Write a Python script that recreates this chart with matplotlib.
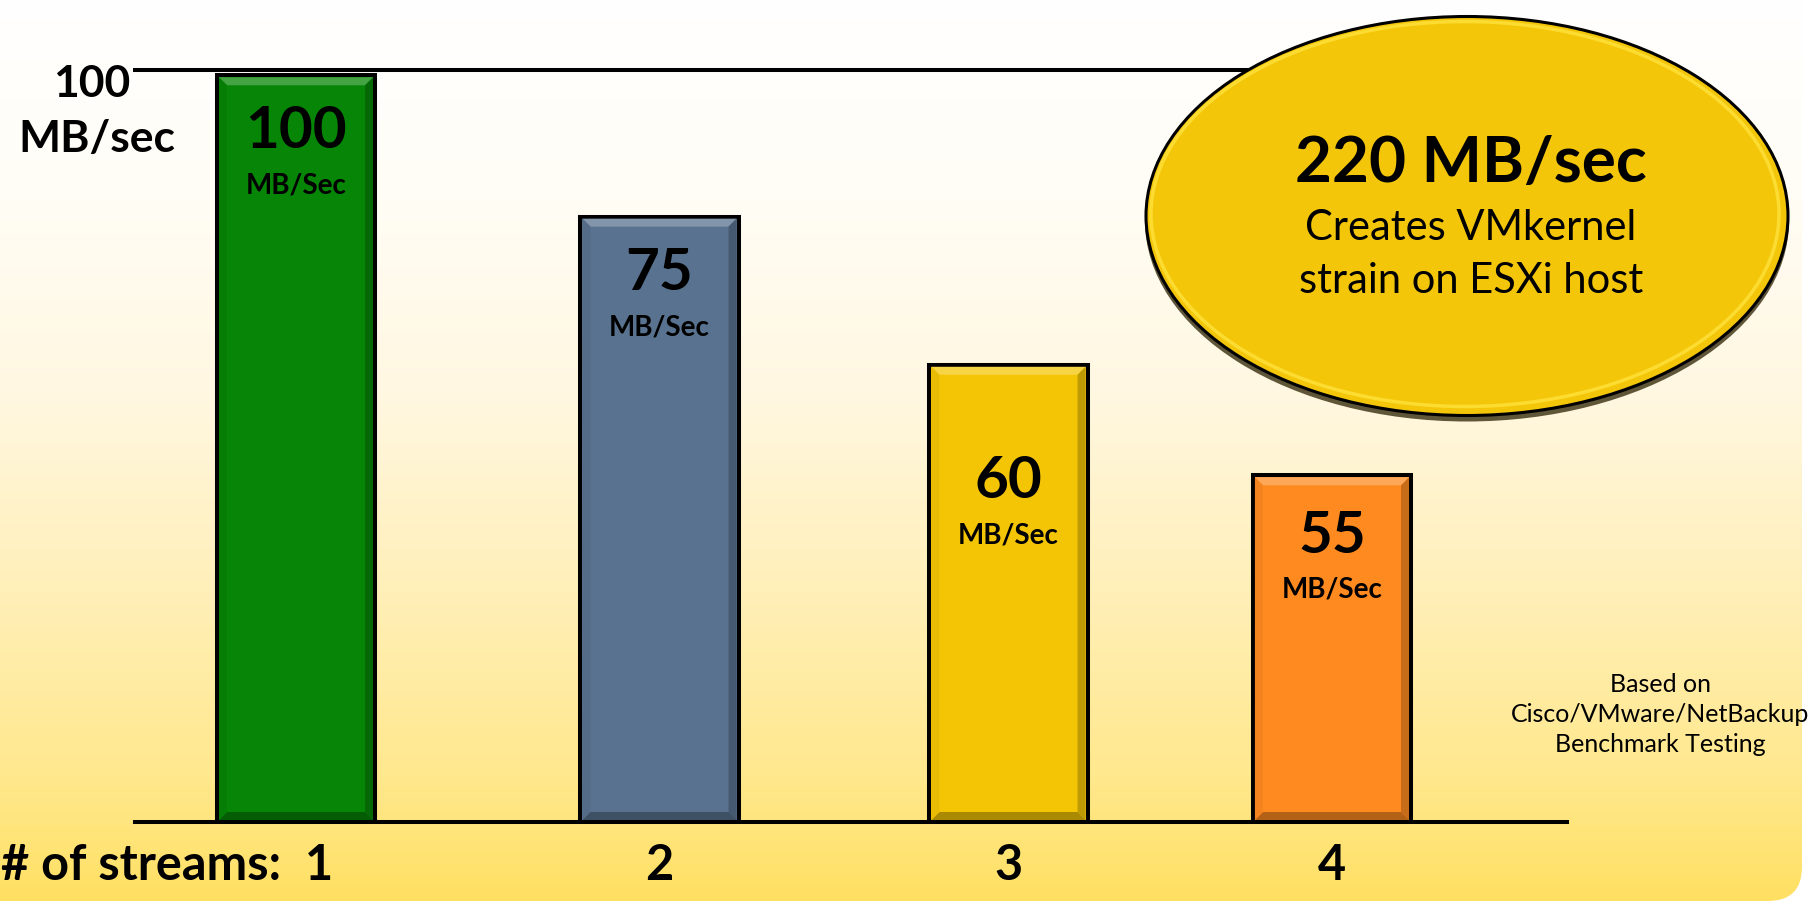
import numpy as np
import matplotlib.pyplot as plt
from matplotlib.patches import Ellipse, FancyBboxPatch, Polygon
from matplotlib.transforms import ScaledTranslation, IdentityTransform
from matplotlib.colors import to_rgb

plt.rcParams['font.family'] = ['Lato', 'DejaVu Sans']

# data (bar heights as drawn, labels as printed)
streams = [1, 2, 3, 4]
rate_labels = ['100', '75', '60', '55']
unit_label = 'MB/Sec'
bar_heights = [99.3, 80.5, 60.8, 46.1]
bar_colors = ['#068506', '#58728F', '#F4C505', '#FF8A20']
ytick_label = ['100', 'MB/sec']
callout_title = '220 MB/sec'
callout_lines = ['Creates VMkernel', 'strain on ESXi host']
note_lines = ['Based on', 'Cisco/VMware/NetBackup', 'Benchmark Testing']

# layout
W, H = 1814, 901
bar_pos = [1.0, 2.0, 2.96, 3.85]
bar_w = 0.435
num_y = [89.6, 70.7, 43.1, 35.8]   # baseline of the big number inside each bar
unit_gap = 6.0

fig = plt.figure(figsize=(W / 100, H / 100), dpi=100)

# background panel with vertical gradient and rounded bottom-right corner
bg = fig.add_axes([0, 0, 1, 1], zorder=0)
bg.set_xlim(0, W)
bg.set_ylim(H, 0)
bg.axis('off')
stops_y = [0, 200, 400, 600, 780, 901]
stops_c = np.array([[255, 255, 255], [255, 253, 245], [255, 247, 224],
                    [255, 239, 182], [255, 232, 140], [255, 224, 98]]) / 255
rows = np.arange(H)
grad = np.stack([np.interp(rows, stops_y, stops_c[:, k]) for k in range(3)], axis=1)
grad = np.repeat(grad[:, None, :], 4, axis=1)
im = bg.imshow(grad, extent=(0, W, H, 0), aspect='auto', interpolation='bilinear')
panel = FancyBboxPatch((-60, -60), 1802 + 60, H + 60,
                       boxstyle='round,pad=0,rounding_size=34',
                       facecolor='none', edgecolor='none')
bg.add_patch(panel)
im.set_clip_path(panel)

# main chart axes
ax = fig.add_axes([135 / W, (H - 822) / H, (1567 - 135) / W, (822 - 70) / H], zorder=2)
ax.patch.set_alpha(0)
ax.set_xlim(0.557, 4.4966)
ax.set_ylim(0, 100)
for side in ['left', 'right']:
    ax.spines[side].set_visible(False)
for side in ['top', 'bottom']:
    ax.spines[side].set_linewidth(2.9)
    ax.spines[side].set_color('black')
ax.set_xticks([])
ax.set_yticks([])

bars = ax.bar(bar_pos, bar_heights, width=bar_w, color=bar_colors,
              edgecolor='black', linewidth=2.9, zorder=3)


def mix(c, other, t):
    c = np.array(to_rgb(c))
    return tuple(c * (1 - t) + np.array(other) * t)


# bevel look on each bar
bev = 8
for rect, col in zip(bars, bar_colors):
    x0, y0 = ax.transData.transform((rect.get_x(), 0))
    x1, y1 = ax.transData.transform((rect.get_x() + rect.get_width(), rect.get_height()))
    x0 += 2; x1 -= 2; y0 += 2; y1 -= 2
    faces = [
        ([(x0, y1), (x1, y1), (x1 - bev, y1 - bev), (x0 + bev, y1 - bev)], mix(col, (1, 1, 1), 0.25)),
        ([(x1, y1), (x1, y0), (x1 - bev, y0 + bev), (x1 - bev, y1 - bev)], mix(col, (0, 0, 0), 0.22)),
        ([(x0, y0), (x1, y0), (x1 - bev, y0 + bev), (x0 + bev, y0 + bev)], mix(col, (0, 0, 0), 0.3)),
        ([(x0, y1), (x0, y0), (x0 + bev, y0 + bev), (x0 + bev, y1 - bev)], mix(col, (0, 0, 0), 0.05)),
    ]
    for pts, fc in faces:
        ax.add_artist(Polygon(pts, closed=True, facecolor=fc, edgecolor='none',
                              transform=IdentityTransform(), zorder=3.5))

# labels inside bars
for x, lab, y in zip(bar_pos, rate_labels, num_y):
    ax.text(x, y, lab, ha='center', va='baseline', fontsize=42, fontweight='bold',
            color='black', zorder=5)
    ax.text(x, y - unit_gap, unit_label, ha='center', va='baseline', fontsize=20,
            fontweight='bold', color='black', zorder=5)

# category labels under the baseline
for i, (x, n) in enumerate(zip(bar_pos, streams)):
    if i == 0:
        tr = ax.transData + ScaledTranslation(37 / 100, 0, fig.dpi_scale_trans)
        ax.text(x, -7.7, f'# of streams:  {n}', ha='right', va='baseline',
                fontsize=35, fontweight='bold', transform=tr, clip_on=False)
    else:
        ax.text(x, -7.7, f'{n}', ha='center', va='baseline', fontsize=35,
                fontweight='bold', clip_on=False)

# overlay: y label, callout ellipse, note
ov = fig.add_axes([0, 0, 1, 1], zorder=5)
ov.set_xlim(0, W)
ov.set_ylim(H, 0)
ov.axis('off')
ov.patch.set_alpha(0)

ov.text(92, 97, ytick_label[0], ha='center', va='baseline', fontsize=32, fontweight='bold')
ov.text(97, 152, ytick_label[1], ha='center', va='baseline', fontsize=32, fontweight='bold')

ecx, ecy, ew, eh = 1467, 216, 642, 399
ov.add_patch(Ellipse((ecx, ecy + 5), ew + 2, eh + 2, facecolor='#2a2000', edgecolor='none', alpha=0.75))
ov.add_patch(Ellipse((ecx, ecy), ew, eh, facecolor='#F4C60A', edgecolor='black', linewidth=2.2))
ov.add_patch(Ellipse((ecx - 2, ecy - 2), ew - 14, eh - 14, facecolor='none',
                     edgecolor='#FFE23A', linewidth=2.5, alpha=0.8))
ov.text(1471, 182, callout_title, ha='center', va='baseline', fontsize=46, fontweight='bold')
ov.text(1471, 240, callout_lines[0], ha='center', va='baseline', fontsize=30)
ov.text(1471, 293, callout_lines[1], ha='center', va='baseline', fontsize=30)

for line, yb in zip(note_lines, [692, 722, 752]):
    ov.text(1660, yb, line, ha='center', va='baseline', fontsize=18)

fig.savefig('out.png', dpi=100)
